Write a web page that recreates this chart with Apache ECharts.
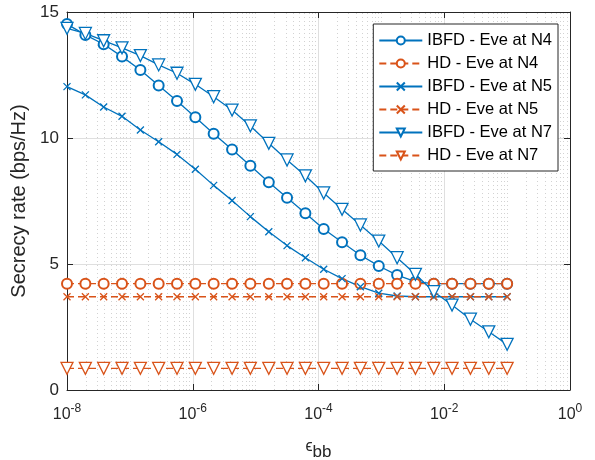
<!DOCTYPE html>
<html>
<head>
<meta charset="utf-8">
<script src="https://cdn.jsdelivr.net/npm/echarts@6/dist/echarts.min.js"></script>
<style>
  html, body { margin: 0; padding: 0; background: #fff; }
  #chart { width: 595px; height: 460px; }
</style>
</head>
<body>
<div id="chart"></div>
<script>
  // sample points of eps_bb
  var epsBB = [1e-8, 1.96e-8, 3.83e-8, 7.50e-8, 1.47e-7, 2.87e-7, 5.62e-7, 1.10e-6, 2.15e-6,
    4.22e-6, 8.25e-6, 1.62e-5, 3.16e-5, 6.19e-5, 1.21e-4, 2.37e-4, 4.64e-4, 9.09e-4,
    1.78e-3, 3.48e-3, 6.81e-3, 1.33e-2, 2.61e-2, 5.11e-2, 0.1];

  var ibfdN4 = [14.52, 14.09, 13.72, 13.23, 12.70, 12.08, 11.47, 10.82, 10.17, 9.54, 8.90, 8.24,
    7.63, 7.01, 6.39, 5.86, 5.35, 4.92, 4.56, 4.30, 4.22, 4.22, 4.22, 4.22, 4.22];
  var hdN4 = [4.22, 4.22, 4.22, 4.22, 4.22, 4.22, 4.22, 4.22, 4.22, 4.22, 4.22, 4.22, 4.22,
    4.22, 4.22, 4.22, 4.22, 4.22, 4.22, 4.22, 4.22, 4.22, 4.22, 4.22, 4.22];
  var ibfdN5 = [12.04, 11.71, 11.23, 10.86, 10.32, 9.85, 9.35, 8.76, 8.12, 7.52, 6.88, 6.28,
    5.73, 5.25, 4.79, 4.42, 4.10, 3.84, 3.73, 3.70, 3.70, 3.70, 3.70, 3.70, 3.70];
  var hdN5 = [3.70, 3.70, 3.70, 3.70, 3.70, 3.70, 3.70, 3.70, 3.70, 3.70, 3.70, 3.70, 3.70,
    3.70, 3.70, 3.70, 3.70, 3.70, 3.70, 3.70, 3.70, 3.70, 3.70, 3.70, 3.70];
  var ibfdN7 = [14.35, 14.15, 13.86, 13.58, 13.27, 12.90, 12.57, 12.13, 11.64, 11.11, 10.48, 9.79,
    9.13, 8.50, 7.82, 7.17, 6.55, 5.91, 5.25, 4.59, 3.90, 3.37, 2.81, 2.31, 1.81];
  var hdN7 = [0.86, 0.86, 0.86, 0.86, 0.86, 0.86, 0.86, 0.86, 0.86, 0.86, 0.86, 0.86, 0.86,
    0.86, 0.86, 0.86, 0.86, 0.86, 0.86, 0.86, 0.86, 0.86, 0.86, 0.86, 0.86];

  var names = ['IBFD - Eve at N4', 'HD - Eve at N4', 'IBFD - Eve at N5',
    'HD - Eve at N5', 'IBFD - Eve at N7', 'HD - Eve at N7'];
  var yTicks = [0, 5, 10, 15];

  var blue = '#0072BD';
  var orange = '#D95319';
  var axisColor = '#262626';
  var font = '"Liberation Sans", Arial, sans-serif';

  var crossPath = 'path://M0,0L10,10M10,0L0,10';
  var triPath = 'path://M0,0L12,0L6,10Z';

  // dotted minor grid (in decades) at 2..9 x 10^n and at the odd decades
  var minorLines = [];
  for (var n = -8; n < 0; n++) {
    for (var m = 1; m <= 9; m++) {
      if (m === 1 && n % 2 === 0) continue;
      minorLines.push({ xAxis: n + Math.log10(m) });
    }
  }

  function pair(x, y) {
    return x.map(function (v, i) { return [v, y[i]]; });
  }

  function makeSeries(name, data, color, dashed, symbol, size) {
    var s = {
      name: name,
      type: 'line',
      data: pair(epsBB, data),
      z: 3,
      color: color,
      symbol: symbol,
      symbolSize: size,
      showAllSymbol: true,
      lineStyle: { color: color, width: 1.3, type: dashed ? [7, 4] : 'solid' },
      itemStyle: { color: '#fff', borderColor: color, borderWidth: 1.3 },
      emphasis: { disabled: true },
      animation: false
    };
    if (symbol === 'emptyCircle') {
      s.itemStyle = { color: color, borderColor: color, borderWidth: 1.3 };
    }
    if (symbol === crossPath) {
      s.itemStyle = { color: 'none', borderColor: color, borderWidth: 1.3 };
    }
    return s;
  }

  var chart = echarts.init(document.getElementById('chart'));

  chart.setOption({
    backgroundColor: '#fff',
    animation: false,
    grid: { left: 67, right: 25, top: 12, bottom: 70, outerBoundsMode: 'none', containLabel: false },
    legend: {
      orient: 'vertical',
      right: 37,
      top: 24,
      z: 20,
      data: names,
      selectedMode: false,
      backgroundColor: '#fff',
      borderColor: axisColor,
      borderWidth: 1,
      borderRadius: 0,
      padding: [8, 6, 7, 5],
      itemGap: 6,
      itemWidth: 43,
      itemHeight: 10,
      textStyle: { fontSize: 16.5, lineHeight: 16.3, fontFamily: font, color: '#000' }
    },
    xAxis: [{
      type: 'log',
      logBase: 10,
      min: 1e-8,
      max: 1,
      interval: 2,
      name: '{e|ϵ}{s|bb}',
      nameLocation: 'middle',
      nameGap: 49,
      nameTextStyle: {
        rich: {
          e: { fontSize: 16, fontFamily: font, color: axisColor, padding: [0, 0, 10, 0] },
          s: { fontSize: 17, fontFamily: font, color: axisColor }
        }
      },
      axisLine: { show: true, onZero: false, lineStyle: { color: axisColor, width: 1 } },
      axisTick: { show: true, inside: true, length: 6, lineStyle: { color: axisColor } },
      axisLabel: {
        margin: 13,
        color: axisColor,
        fontFamily: font,
        formatter: function (v) {
          var e = Math.round(Math.log10(v));
          return '{b|10}{s|' + e + '}';
        },
        rich: {
          b: { fontSize: 16, fontFamily: font, color: axisColor },
          s: { fontSize: 12, fontFamily: font, color: axisColor, padding: [0, 0, 11, 0] }
        }
      },
      splitLine: { show: true, lineStyle: { color: '#dfdfdf', width: 1 } }
    }, {
      // top edge of the box, in decades; also carries the minor grid
      type: 'value',
      min: -8,
      max: 0,
      interval: 2,
      position: 'top',
      axisLine: { show: true, onZero: false, lineStyle: { color: axisColor, width: 1 } },
      axisTick: { show: true, inside: true, length: 6, lineStyle: { color: axisColor } },
      axisLabel: { show: false },
      splitLine: { show: false }
    }],
    yAxis: [{
      type: 'value',
      min: yTicks[0],
      max: yTicks[yTicks.length - 1],
      interval: 5,
      name: 'Secrecy rate (bps/Hz)',
      nameLocation: 'middle',
      nameGap: 26,
      nameTextStyle: { fontSize: 20, fontFamily: font, color: axisColor },
      axisLine: { show: true, onZero: false, lineStyle: { color: axisColor, width: 1 } },
      axisTick: { show: true, inside: true, length: 6, lineStyle: { color: axisColor } },
      axisLabel: { fontSize: 17, fontFamily: font, color: axisColor, margin: 8 },
      splitLine: { show: true, lineStyle: { color: '#dfdfdf', width: 1 } }
    }, {
      type: 'value',
      min: yTicks[0],
      max: yTicks[yTicks.length - 1],
      interval: 5,
      position: 'right',
      axisLine: { show: true, onZero: false, lineStyle: { color: axisColor, width: 1 } },
      axisTick: { show: true, inside: true, length: 6, lineStyle: { color: axisColor } },
      axisLabel: { show: false },
      splitLine: { show: false }
    }],
    series: [
      {
        name: 'grid',
        type: 'line',
        xAxisIndex: 1,
        data: [],
        z: 1,
        silent: true,
        markLine: {
          silent: true,
          z: 1,
          symbol: 'none',
          label: { show: false },
          lineStyle: { color: '#d2d2d2', width: 1, type: [1, 3] },
          emphasis: { disabled: true },
          animation: false,
          data: minorLines
        }
      },
      makeSeries(names[0], ibfdN4, blue, false, 'emptyCircle', 10),
      makeSeries(names[1], hdN4, orange, true, 'emptyCircle', 10),
      makeSeries(names[2], ibfdN5, blue, false, crossPath, 7),
      makeSeries(names[3], hdN5, orange, true, crossPath, 7),
      makeSeries(names[4], ibfdN7, blue, false, triPath, 12),
      makeSeries(names[5], hdN7, orange, true, triPath, 12)
    ]
  });
</script>
</body>
</html>
